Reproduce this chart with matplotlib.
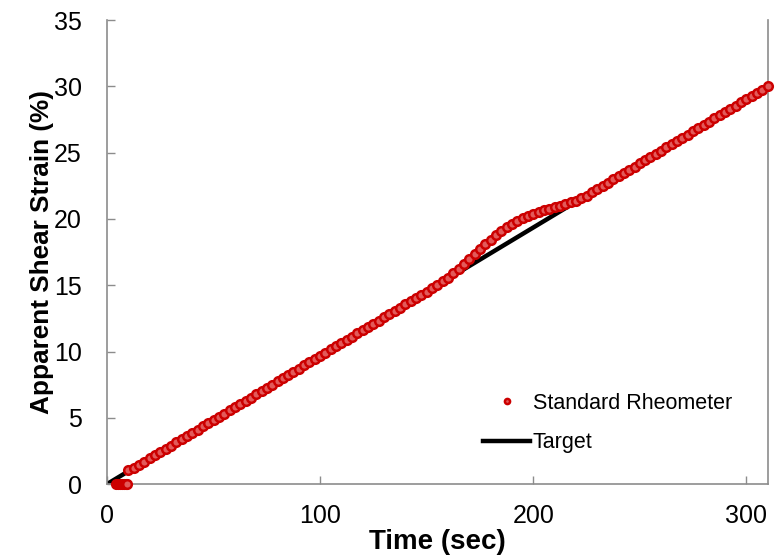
import matplotlib
matplotlib.use("Agg")
import matplotlib.pyplot as plt

plt.rcParams["font.family"] = ["Liberation Sans", "DejaVu Sans"]

# ---- data ----
rheo_time = [4, 5, 6, 7, 8, 9, 9.5,
             10, 12.5, 15, 17.5, 20, 22.5, 25, 27.5, 30, 32.5, 35, 37.5, 40,
             42.5, 45, 47.5, 50, 52.5, 55, 57.5, 60, 62.5, 65, 67.5, 70,
             72.5, 75, 77.5, 80, 82.5, 85, 87.5, 90, 92.5, 95, 97.5, 100,
             102.5, 105, 107.5, 110, 112.5, 115, 117.5, 120, 122.5, 125, 127.5, 130,
             132.5, 135, 137.5, 140, 142.5, 145, 147.5, 150, 152.5, 155, 157.5, 160,
             162.5, 165, 167.5, 170, 172.5, 175, 177.5, 180, 182.5, 185, 187.5, 190,
             192.5, 195, 197.5, 200, 202.5, 205, 207.5, 210, 212.5, 215, 217.5, 220,
             222.5, 225, 227.5, 230, 232.5, 235, 237.5, 240, 242.5, 245, 247.5, 250,
             252.5, 255, 257.5, 260, 262.5, 265, 267.5, 270, 272.5, 275, 277.5, 280,
             282.5, 285, 287.5, 290, 292.5, 295, 297.5, 300, 302.5, 305, 307.5, 310]
rheo_strain = [0, 0, 0, 0, 0, 0, 0,
               1.05, 1.21, 1.45, 1.69, 1.94, 2.18, 2.42, 2.66, 2.90, 3.15, 3.39, 3.63, 3.87,
               4.11, 4.35, 4.60, 4.84, 5.08, 5.32, 5.56, 5.81, 6.05, 6.29, 6.53, 6.77,
               7.02, 7.26, 7.50, 7.74, 7.98, 8.23, 8.47, 8.71, 8.95, 9.19, 9.44, 9.68,
               9.92, 10.16, 10.40, 10.65, 10.89, 11.13, 11.37, 11.61, 11.85, 12.10, 12.34, 12.58,
               12.82, 13.06, 13.31, 13.55, 13.79, 14.03, 14.27, 14.52, 14.76, 15.03, 15.30, 15.58,
               15.90, 16.22, 16.58, 16.95, 17.33, 17.72, 18.09, 18.44, 18.77, 19.07, 19.36, 19.62,
               19.86, 20.06, 20.22, 20.38, 20.52, 20.64, 20.76, 20.87, 20.99, 21.12, 21.25, 21.39,
               21.58, 21.77, 22.02, 22.26, 22.50, 22.74, 22.98, 23.23, 23.47, 23.71, 23.95, 24.19,
               24.44, 24.68, 24.92, 25.16, 25.40, 25.65, 25.89, 26.13, 26.37, 26.61, 26.85, 27.10,
               27.34, 27.58, 27.82, 28.06, 28.31, 28.55, 28.79, 29.03, 29.27, 29.52, 29.76, 30.0]
target_time = [0, 310]
target_strain = [0, 30.0]

x_ticks = [0, 100, 200, 300]
y_ticks = [0, 5, 10, 15, 20, 25, 30, 35]

grey = "#8c8c8c"

fig = plt.figure(figsize=(7.81, 5.59), dpi=100)
ax = fig.add_axes([0.137, 0.134, 0.846, 0.830])

ax.plot(target_time, target_strain, color="black", lw=3.2, label="Target", zorder=2)
ax.plot(rheo_time, rheo_strain, ls="none", marker="o", ms=6.2,
        mfc="#e25a5a", mec="#cc0000", mew=1.8, label="Standard Rheometer",
        clip_on=False, zorder=3)

ax.set_xlim(0, 310)
ax.set_ylim(0, 35)
ax.set_xticks(x_ticks)
ax.set_yticks(y_ticks)
ax.tick_params(direction="in", length=6, width=1, color=grey, labelsize=18)
ax.tick_params(axis="x", pad=14)
ax.tick_params(axis="y", pad=18)

for side in ("left", "bottom", "right"):
    ax.spines[side].set_color(grey)
    ax.spines[side].set_linewidth(1.2)
ax.spines["top"].set_visible(False)

ax.set_xlabel("Time (sec)", fontsize=20, fontweight="bold", labelpad=1)
ax.set_ylabel("Apparent Shear Strain (%)", fontsize=18.8, fontweight="bold", labelpad=0)

handles, labels = ax.get_legend_handles_labels()
leg = ax.legend(handles[::-1], labels[::-1], loc="lower right",
                bbox_to_anchor=(0.975, 0.025), frameon=False, fontsize=15.5,
                handlelength=2.2, handletextpad=0.1, labelspacing=0.85,
                markerscale=0.6)

fig.savefig("out.png", dpi=100)
